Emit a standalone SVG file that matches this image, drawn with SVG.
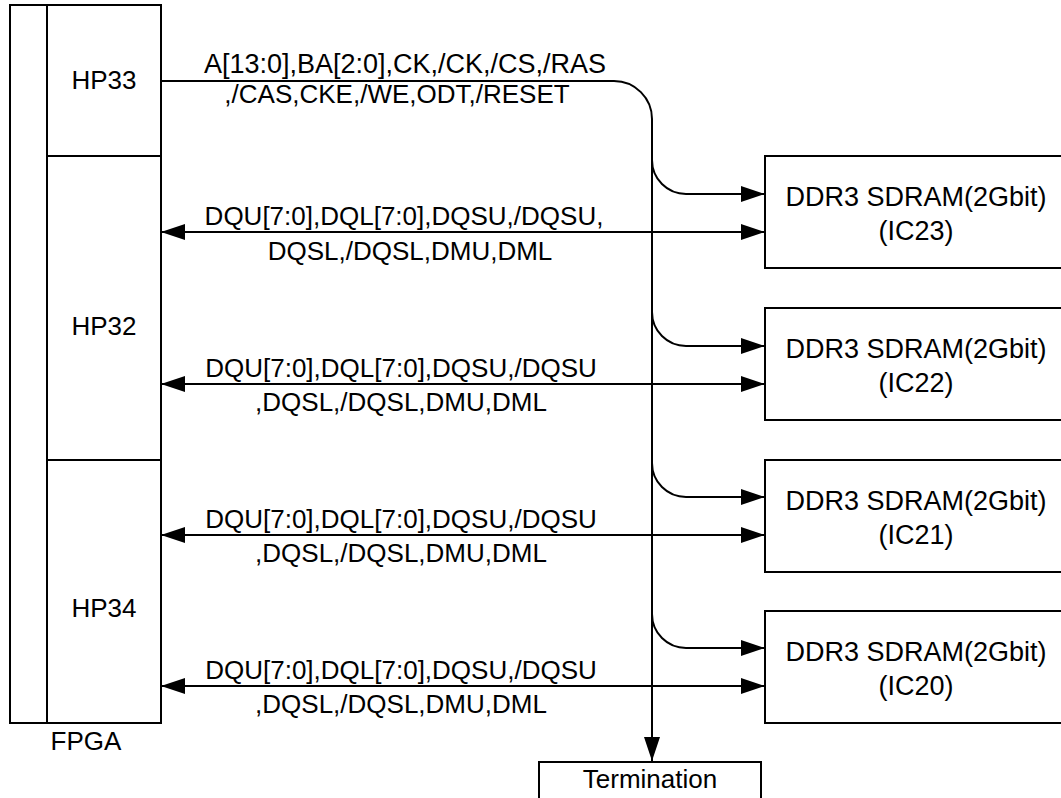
<svg xmlns="http://www.w3.org/2000/svg" width="1061" height="798" viewBox="0 0 1061 798">
<style>
.box{fill:#fff;stroke:#000;stroke-width:2}
.ln{fill:none;stroke:#000;stroke-width:2}
text{font-family:"Liberation Sans",Arial,sans-serif;font-size:26px;fill:#000;text-anchor:middle}
.big{font-size:27px}
</style>
<defs>
<marker id="ah" markerWidth="24" markerHeight="16" refX="24" refY="8" orient="auto-start-reverse" markerUnits="userSpaceOnUse">
<path d="M0,0 L24,8 L0,16 Z" fill="#000"/>
</marker>
</defs>
<rect width="1061" height="798" fill="#fff"/>
<g id="fpga">
<rect class="box" x="10" y="5" width="151" height="718"/>
<line class="ln" x1="47" y1="5" x2="47" y2="723"/>
<line class="ln" x1="47" y1="156" x2="161" y2="156"/>
<line class="ln" x1="47" y1="460" x2="161" y2="460"/>
<text x="86" y="750">FPGA</text>
</g>
<g id="hp33"><text x="104" y="89">HP33</text></g>
<g id="hp32"><text x="104" y="335">HP32</text></g>
<g id="hp34"><text x="104" y="617">HP34</text></g>
<g id="ic23">
<rect class="box" x="765" y="156" width="300" height="112"/>
<text class="big" x="916" y="206">DDR3 SDRAM(2Gbit)</text>
<text class="big" x="916" y="240">(IC23)</text>
</g>
<g id="ic22">
<rect class="box" x="765" y="308" width="300" height="112"/>
<text class="big" x="916" y="358">DDR3 SDRAM(2Gbit)</text>
<text class="big" x="916" y="392">(IC22)</text>
</g>
<g id="ic21">
<rect class="box" x="765" y="460" width="300" height="112"/>
<text class="big" x="916" y="510">DDR3 SDRAM(2Gbit)</text>
<text class="big" x="916" y="544">(IC21)</text>
</g>
<g id="ic20">
<rect class="box" x="765" y="611" width="300" height="112"/>
<text class="big" x="916" y="661">DDR3 SDRAM(2Gbit)</text>
<text class="big" x="916" y="695">(IC20)</text>
</g>
<g id="termination">
<rect class="box" x="539" y="762" width="222" height="50"/>
<text x="650" y="788">Termination</text>
</g>
<g id="connectors">
<path class="ln" d="M161,81 L614,81 A38,38 0 0 1 652,119 L652,761" marker-end="url(#ah)"/>
<path class="ln" d="M652,160 A34,34 0 0 0 686,194 L765,194" marker-end="url(#ah)"/>
<path class="ln" d="M652,312 A34,34 0 0 0 686,346 L765,346" marker-end="url(#ah)"/>
<path class="ln" d="M652,463 A34,34 0 0 0 686,497 L765,497" marker-end="url(#ah)"/>
<path class="ln" d="M652,614 A34,34 0 0 0 686,648 L765,648" marker-end="url(#ah)"/>
<line class="ln" x1="161" y1="232" x2="765" y2="232" marker-start="url(#ah)" marker-end="url(#ah)"/>
<line class="ln" x1="161" y1="384" x2="765" y2="384" marker-start="url(#ah)" marker-end="url(#ah)"/>
<line class="ln" x1="161" y1="535" x2="765" y2="535" marker-start="url(#ah)" marker-end="url(#ah)"/>
<line class="ln" x1="161" y1="686" x2="765" y2="686" marker-start="url(#ah)" marker-end="url(#ah)"/>
<text class="big" x="405" y="73">A[13:0],BA[2:0],CK,/CK,/CS,/RAS</text>
<text x="397" y="103">,/CAS,CKE,/WE,ODT,/RESET</text>
<text x="404" y="225">DQU[7:0],DQL[7:0],DQSU,/DQSU,</text>
<text x="410" y="260">DQSL,/DQSL,DMU,DML</text>
<text x="401" y="377">DQU[7:0],DQL[7:0],DQSU,/DQSU</text>
<text x="401" y="411">,DQSL,/DQSL,DMU,DML</text>
<text x="401" y="528">DQU[7:0],DQL[7:0],DQSU,/DQSU</text>
<text x="401" y="562">,DQSL,/DQSL,DMU,DML</text>
<text x="401" y="679">DQU[7:0],DQL[7:0],DQSU,/DQSU</text>
<text x="401" y="713">,DQSL,/DQSL,DMU,DML</text>
</g>
</svg>
